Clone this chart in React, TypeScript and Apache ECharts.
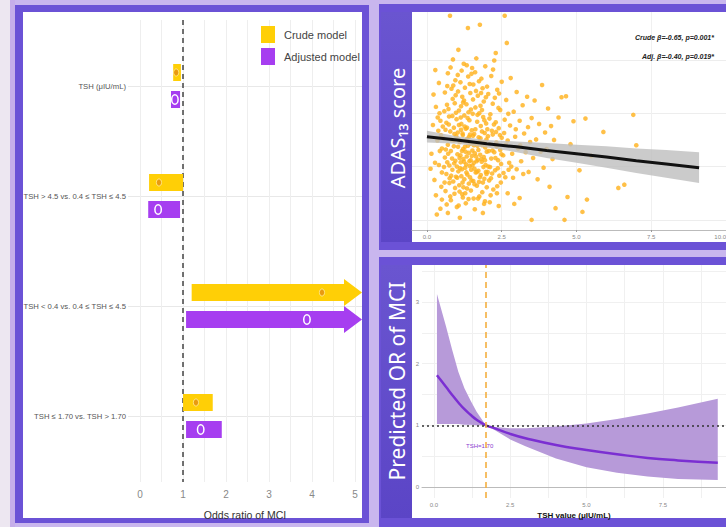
import React, { useEffect, useRef } from "react";
import * as echarts from "echarts";

// ---------- Forest plot (left panel) ----------
const forestCategories = [
  "TSH (μIU/mL)",
  "TSH > 4.5 vs. 0.4 ≤ TSH ≤ 4.5",
  "TSH < 0.4 vs. 0.4 ≤ TSH ≤ 4.5",
  "TSH ≤ 1.70 vs. TSH > 1.70",
];
const crudeOR = [0.84, 0.44, 4.23, 1.3];
const crudeLower = [0.77, 0.21, 1.2, 1.0];
const crudeUpper = [0.95, 1.0, 8.0, 1.69];
const adjOR = [0.81, 0.42, 3.88, 1.41];
const adjLower = [0.72, 0.19, 1.07, 1.07];
const adjUpper = [0.93, 0.93, 7.5, 1.9];
const orLabelTicks = [0, 1, 2, 3, 4, 5];
const orGridTicks = [0, 0.5, 1, 1.5, 2, 2.5, 3, 3.5, 4, 4.5, 5];
const OR_MIN = -0.28;
const OR_MAX = 5.16;

// ---------- ADAS13 scatter (top right) ----------
const adasPoints = [
  [0.15,22.4],[0.2,27.8],[0.25,17.5],[0.3,31.2],[0.3,14.6],[0.35,24.9],[0.4,20.3],[0.4,35.7],[0.45,12.1],[0.45,28.6],
  [0.5,18.9],[0.5,23.4],[0.33,11.0],[0.22,33.5],[0.48,16.2],[0.12,19.6],[0.38,26.7],[0.28,38.1],[0.42,30.0],[0.5,13.8],
  [0.55,25.3],[0.6,21.7],[0.6,33.9],[0.62,15.4],[0.65,28.2],[0.65,18.6],[0.7,11.3],[0.7,24.1],[0.7,37.5],[0.72,30.8],
  [0.75,20.2],[0.75,16.9],[0.77,48.3],[0.78,26.6],[0.8,22.9],[0.8,13.7],[0.82,34.6],[0.85,19.4],[0.85,29.5],[0.87,40.1],
  [0.88,17.2],[0.9,23.8],[0.9,27.3],[0.92,14.9],[0.93,31.9],[0.95,21.1],[0.95,36.2],[0.97,18.1],[0.98,25.7],[1.0,12.4],
  [0.58,30.4],[0.63,23.2],[0.68,35.1],[0.73,27.9],[0.76,17.8],[0.83,25.0],[0.86,32.7],[0.91,20.6],[0.94,16.0],[0.99,28.9],
  [0.57,19.9],[0.66,12.9],[0.79,38.6],[0.84,21.5],[0.96,33.4],
  [1.02,22.3],[1.03,26.4],[1.05,19.1],[1.05,41.9],[1.07,30.5],[1.08,16.5],[1.1,10.4],[1.1,24.6],[1.12,35.8],[1.13,20.8],
  [1.15,28.0],[1.15,18.2],[1.17,22.9],[1.18,33.1],[1.2,14.2],[1.2,25.9],[1.22,21.4],[1.23,39.3],[1.25,17.6],[1.25,29.6],
  [1.27,23.7],[1.28,19.8],[1.3,27.1],[1.3,13.1],[1.32,31.7],[1.33,21.9],[1.35,18.5],[1.35,25.2],[1.37,46.0],[1.38,36.9],
  [1.4,22.6],[1.4,16.8],[1.42,28.7],[1.43,20.1],[1.45,24.3],[1.45,33.8],[1.47,15.5],[1.48,19.4],[1.5,26.8],[1.5,22.0],
  [1.04,34.1],[1.09,21.6],[1.14,26.9],[1.19,17.0],[1.24,32.4],[1.29,24.8],[1.34,15.9],[1.39,30.2],[1.44,18.0],[1.49,37.4],
  [1.06,12.7],[1.16,38.0],[1.21,23.3],[1.26,27.5],[1.31,20.4],[1.36,29.1],[1.41,25.6],[1.46,21.2],[1.11,19.7],[1.18,14.8],
  [1.52,23.0],[1.53,29.9],[1.55,17.3],[1.55,35.4],[1.57,20.7],[1.58,26.1],[1.6,12.0],[1.6,22.5],[1.62,31.1],[1.63,18.9],
  [1.65,24.4],[1.65,40.3],[1.67,16.4],[1.68,28.4],[1.7,21.3],[1.7,33.3],[1.72,19.2],[1.73,25.5],[1.75,14.4],[1.75,30.0],
  [1.77,46.6],[1.78,22.2],[1.8,27.6],[1.8,18.4],[1.82,36.5],[1.83,20.9],[1.85,24.0],[1.85,15.2],[1.87,11.3],[1.88,29.3],
  [1.9,21.8],[1.9,32.2],[1.92,17.7],[1.93,26.3],[1.95,23.6],[1.95,38.8],[1.97,19.0],[1.98,28.1],[2.0,16.1],[2.0,22.8],
  [1.54,25.8],[1.59,19.6],[1.64,34.2],[1.69,23.9],[1.74,17.1],[1.79,31.4],[1.84,26.6],[1.89,19.9],[1.94,13.5],[1.99,25.1],
  [1.56,14.0],[1.66,21.0],[1.76,24.7],[1.86,34.7],[1.96,20.3],
  [2.02,27.0],[2.05,20.0],[2.05,33.6],[2.08,17.4],[2.1,24.2],[2.1,13.3],[2.12,29.8],[2.15,21.5],[2.15,37.0],[2.18,18.7],
  [2.2,26.0],[2.2,31.8],[2.22,15.7],[2.25,22.7],[2.25,39.9],[2.28,19.3],[2.3,41.3],[2.3,28.3],[2.32,24.5],[2.35,16.3],
  [2.35,34.4],[2.38,21.2],[2.4,27.2],[2.4,12.6],[2.42,18.3],[2.45,30.6],[2.45,23.1],[2.48,20.5],[2.5,25.4],[2.5,35.9],
  [2.07,22.9],[2.17,26.7],[2.27,32.9],[2.37,19.7],[2.47,17.0],[2.13,14.6],[2.33,23.8],[2.03,19.0],
  [2.55,22.1],[2.6,48.3],[2.6,28.8],[2.62,18.0],[2.65,32.5],[2.67,43.2],[2.7,24.9],[2.7,15.0],[2.75,20.7],[2.78,27.7],
  [2.8,36.6],[2.85,22.4],[2.88,17.9],[2.9,30.3],[2.95,25.6],[3.0,19.5],[3.0,34.0],[3.05,23.4],[3.1,14.1],[3.1,28.6],
  [3.15,21.0],[3.2,31.5],[3.22,18.6],[3.25,26.2],[3.3,22.7],[3.35,33.1],[3.4,19.0],[3.45,24.6],[3.5,10.0],[3.5,29.1],
  [2.58,26.3],[2.73,19.4],[2.92,13.0],[3.12,24.0],[3.38,27.4],
  [3.55,21.6],[3.6,32.4],[3.65,25.1],[3.7,17.6],[3.75,28.0],[3.8,22.8],[3.85,35.3],[3.9,19.8],[3.95,26.4],[4.0,23.3],
  [4.05,30.9],[4.1,16.2],[4.15,27.6],[4.2,21.4],[4.25,25.0],[4.3,12.2],[4.4,29.2],[4.5,33.0],[4.6,10.0],[4.65,33.2],
  [4.7,14.3],[4.8,24.2],[4.9,28.5],
  [5.2,11.5],[5.3,29.0],[5.35,13.8],[5.9,26.5],[6.4,16.0],[6.6,16.6],[6.9,29.7],[7.0,24.0],[5.5,22.0],[5.1,19.3],
  [0.62,26.9],[0.68,20.8],[0.74,29.4],[0.81,18.3],[0.89,24.9],[0.97,30.1],[1.01,17.9],[1.04,23.7],[1.07,27.8],[1.09,15.3],
  [1.12,22.1],[1.14,31.3],[1.17,19.5],[1.19,26.2],[1.22,16.1],[1.24,20.9],[1.27,34.8],[1.29,22.8],[1.32,18.9],[1.34,27.3],
  [1.37,23.9],[1.39,13.9],[1.42,21.0],[1.44,26.0],[1.47,30.7],[1.49,17.4],[1.52,20.2],[1.54,32.6],[1.57,24.0],[1.59,16.7],
  [1.62,27.0],[1.64,21.9],[1.67,19.0],[1.69,29.7],[1.72,23.1],[1.74,36.0],[1.77,18.0],[1.79,25.3],[1.82,21.4],[1.84,30.6],
  [1.87,17.0],[1.89,24.5],[1.92,28.7],[1.94,21.2],[1.97,33.0],[1.99,18.6],[2.04,25.7],[2.09,29.0],[2.14,17.8],[2.19,23.0],
  [2.24,27.9],[2.29,21.6],[2.34,15.0],[2.39,31.0],[2.44,25.9],[2.49,22.3],[2.56,18.8],[2.64,24.1],[2.72,29.9],[2.82,20.0],
  [2.97,27.0],[0.53,27.5],[0.59,17.0],[0.67,31.6],[0.71,22.4],[0.78,14.4],[0.88,35.2],[0.92,26.1],[1.0,20.0],[1.03,37.2],
  [1.08,25.0],[1.13,29.2],[1.21,32.0],[1.28,15.0],[1.33,39.0],[1.43,35.5],[1.51,38.5],[1.61,37.7],[1.71,14.0],[1.81,33.8],
  [1.91,13.0],[2.01,35.0],[2.11,19.9],[2.21,38.2],[2.31,26.5],[2.41,33.7],[0.43,22.9],[0.36,29.2],[0.47,25.9],[0.27,20.7],
];
const regX = [0, 1, 2, 3, 4, 5, 6, 7, 8, 9.1];
const regFit = [25.6, 25.0, 24.3, 23.7, 23.0, 22.4, 21.8, 21.1, 20.5, 19.8];
const regLower = [24.5, 24.3, 23.6, 22.7, 21.6, 20.7, 19.8, 18.8, 17.9, 16.9];
const regUpper = [26.7, 25.7, 25.0, 24.7, 24.4, 24.1, 23.8, 23.4, 23.1, 22.7];
const tshLabelTicks = [0, 2.5, 5, 7.5, 10];
const adasGridTicks = [10, 20, 30, 40];

// ---------- Predicted OR curve (bottom right) ----------
const curveTSH = [0.1, 0.4, 0.6, 0.8, 1.0, 1.2, 1.4, 1.7, 2.0, 2.5, 3, 4, 5, 6, 7, 8, 9.3];
const curveOR = [1.81, 1.62, 1.49, 1.37, 1.26, 1.17, 1.09, 1.0, 0.95, 0.86, 0.79, 0.68, 0.6, 0.53, 0.47, 0.43, 0.39];
const curveUpper = [3.13, 2.6, 2.22, 1.87, 1.6, 1.4, 1.22, 1.0, 0.97, 0.95, 0.95, 0.98, 1.03, 1.1, 1.19, 1.29, 1.43];
const curveLower = [1.02, 1.02, 1.02, 1.02, 1.01, 1.01, 1.0, 1.0, 0.92, 0.77, 0.66, 0.46, 0.32, 0.23, 0.17, 0.13, 0.11];
const cutoffTSH = 1.7;
const predLabelTicks = [0, 1, 2, 3];
const predGridTicks = [0, 0.5, 1, 1.5, 2, 2.5, 3, 3.5];
const curveXLabelTicks = [0, 2.5, 5, 7.5];
const curveXGridTicks = [0, 1.25, 2.5, 3.75, 5, 6.25, 7.5, 8.75];

const SANS = "'Liberation Sans',Arial,sans-serif";
const PURPLE_FRAME = "#6B52D6";
const STRIP = "#5B45C6";

const fmt1 = (v: number) => (v === 10 ? "10.0" : v.toFixed(1));

function forestRender(offset: number, fill: string, mFill: string, mStroke: string, rx: number, ry: number, lw: number) {
  return (params: any, api: any) => {
    const cat = api.value(0);
    const lo = api.value(1);
    const hi = api.value(2);
    const est = api.value(3);
    const cs = params.coordSys;
    const pLo = api.coord([lo, cat]);
    const pEst = api.coord([est, cat]);
    const cy = pLo[1] + offset;
    const h = 17;
    const children: any[] = [];
    if (hi > OR_MAX) {
      const tip = cs.x + cs.width;
      const hs = tip - 18;
      children.push({
        type: "polygon",
        shape: {
          points: [
            [pLo[0], cy - h / 2], [hs, cy - h / 2], [hs, cy - 13.5], [tip, cy],
            [hs, cy + 13.5], [hs, cy + h / 2], [pLo[0], cy + h / 2],
          ],
        },
        style: { fill },
      });
    } else {
      const pHi = api.coord([hi, cat]);
      children.push({ type: "rect", shape: { x: pLo[0], y: cy - h / 2, width: pHi[0] - pLo[0], height: h }, style: { fill } });
    }
    children.push({ type: "ellipse", shape: { cx: pEst[0], cy, rx, ry }, style: { fill: mFill, stroke: mStroke, lineWidth: lw } });
    return { type: "group", children };
  };
}

function bandRender(xs: number[], lo: number[], hi: number[], fill: string) {
  return (params: any, api: any) => {
    if (params.dataIndex !== 0) return null;
    const pts: number[][] = [];
    for (let i = 0; i < xs.length; i++) pts.push(api.coord([xs[i], hi[i]]));
    for (let i = xs.length - 1; i >= 0; i--) pts.push(api.coord([xs[i], lo[i]]));
    return { type: "polygon", shape: { points: pts }, style: { fill } };
  };
}

export default function App() {
  const ref = useRef<HTMLDivElement>(null);
  useEffect(() => {
    document.body.style.margin = "0";
    const chart = echarts.init(ref.current!, undefined, { renderer: "svg" });
    const crudeData = forestCategories.map((_, i) => [i, crudeLower[i], crudeUpper[i], crudeOR[i]]);
    const adjData = forestCategories.map((_, i) => [i, adjLower[i], adjUpper[i], adjOR[i]]);

    const tinyLabel = { fontSize: 6, color: "#888", fontFamily: SANS };
    const stripFill = () =>
      new echarts.graphic.LinearGradient(0, 0, 0, 1, [{ offset: 0, color: "#6A55D0" }, { offset: 1, color: STRIP }]);

    const option: any = {
      animation: false,
      graphic: [
        { type: "rect", z: -20, shape: { x: 0, y: 0, width: 726, height: 527 }, style: { fill: "#C9B6EE" } },
        { type: "rect", z: -19, shape: { x: 0, y: 0, width: 10, height: 527 }, style: { fill: "#EDE7F1" } },
        { type: "rect", z: -19, shape: { x: 10, y: 0, width: 5, height: 527 }, style: { fill: "#C6AEEA" } },
        { type: "rect", z: -18, shape: { x: 15, y: 5, width: 354, height: 518 }, style: { fill: PURPLE_FRAME } },
        { type: "rect", z: -17, shape: { x: 23, y: 12, width: 339, height: 506 }, style: { fill: "#ffffff" } },
        { type: "rect", z: -18, shape: { x: 379, y: 4, width: 347, height: 246 }, style: { fill: PURPLE_FRAME } },
        { type: "rect", z: -17, shape: { x: 381, y: 12, width: 31, height: 230 }, style: { fill: stripFill() } },
        { type: "rect", z: -17, shape: { x: 412, y: 12, width: 314, height: 230 }, style: { fill: "#ffffff" } },
        { type: "rect", z: -18, shape: { x: 379, y: 257, width: 347, height: 270 }, style: { fill: PURPLE_FRAME } },
        { type: "rect", z: -17, shape: { x: 381, y: 265, width: 31, height: 253 }, style: { fill: stripFill() } },
        { type: "rect", z: -17, shape: { x: 412, y: 265, width: 314, height: 253 }, style: { fill: "#ffffff" } },
        { type: "text", z: 50, x: 397, y: 128, rotation: Math.PI / 2,
          style: { text: "ADAS₁₃ score", fill: "#ffffff", fontSize: 20, fontFamily: "'Noto Sans',sans-serif", align: "center", verticalAlign: "middle" } },
        { type: "text", z: 50, x: 397, y: 381, rotation: Math.PI / 2,
          style: { text: "Predicted OR of MCI", fill: "#ffffff", fontSize: 21, fontFamily: "'Noto Sans',sans-serif", align: "center", verticalAlign: "middle" } },
        { type: "text", z: 50, x: 714, y: 37,
          style: { text: "Crude β=-0.65, p=0.001*", fill: "#222", fontSize: 7, fontStyle: "italic", fontWeight: "bold", fontFamily: SANS, align: "right", verticalAlign: "middle" } },
        { type: "text", z: 50, x: 714, y: 56,
          style: { text: "Adj. β=-0.40, p=0.019*", fill: "#222", fontSize: 7, fontStyle: "italic", fontWeight: "bold", fontFamily: SANS, align: "right", verticalAlign: "middle" } },
      ],
      legend: {
        data: ["Crude model", "Adjusted model"],
        orient: "vertical",
        left: 256,
        top: 21,
        itemWidth: 14,
        itemHeight: 17,
        itemGap: 5,
        icon: "rect",
        textStyle: { fontSize: 11, color: "#444", fontFamily: SANS, padding: [0, 0, 0, 4] },
      },
      grid: [
        { left: 128, top: 20, width: 234, height: 462, outerBoundsMode: "none", containLabel: false },
        { left: 412, top: 12, width: 314, height: 218, outerBoundsMode: "none", containLabel: false },
        { left: 422, top: 265, width: 304, height: 233, outerBoundsMode: "none", containLabel: false },
      ],
      xAxis: [
        {
          gridIndex: 0, type: "value", min: OR_MIN, max: OR_MAX,
          name: "Odds ratio of MCI", nameLocation: "middle", nameGap: 27,
          nameTextStyle: { fontSize: 10.5, color: "#333", fontFamily: SANS },
          axisLine: { show: false },
          axisTick: { show: false, customValues: orGridTicks },
          axisLabel: { customValues: orLabelTicks, fontSize: 10, color: "#888", fontFamily: SANS, margin: 7 },
          splitLine: { show: true, lineStyle: { color: "#EEEEEE", width: 1 } },
        },
        {
          gridIndex: 1, type: "value", min: -0.5, max: 10,
          axisLine: { show: true, lineStyle: { color: "#BBBBBB" } },
          axisTick: { show: true, customValues: tshLabelTicks, length: 2, lineStyle: { color: "#999" } },
          axisLabel: { customValues: tshLabelTicks, ...tinyLabel, margin: 4, alignMaxLabel: "right", formatter: (v: number) => fmt1(v) },
          splitLine: { show: true, lineStyle: { color: "#F0F0F0" } },
        },
        {
          gridIndex: 2, type: "value", min: -0.39, max: 9.57,
          name: "TSH value (μIU/mL)", nameLocation: "middle", nameGap: 13,
          nameTextStyle: { fontSize: 8, color: "#111", fontWeight: "bold", fontFamily: SANS },
          axisLine: { show: true, lineStyle: { color: "#BBBBBB" } },
          axisTick: { show: false, customValues: curveXGridTicks },
          axisLabel: { customValues: curveXLabelTicks, ...tinyLabel, margin: 4, formatter: (v: number) => v.toFixed(1) },
          splitLine: { show: true, lineStyle: { color: "#F0F0F0" } },
        },
      ],
      yAxis: [
        {
          gridIndex: 0, type: "value", min: -0.6, max: 3.6, inverse: true,
          axisLine: { show: false },
          axisTick: { show: false, customValues: [0, 1, 2, 3] },
          axisLabel: {
            customValues: [0, 1, 2, 3], fontSize: 7.7, color: "#555", fontFamily: SANS, margin: 2,
            formatter: (v: number) => forestCategories[Math.round(v)] ?? "",
          },
          splitLine: { show: true, lineStyle: { color: "#E8E8E8" } },
        },
        {
          gridIndex: 1, type: "value", min: 8.1, max: 49,
          axisLine: { show: false },
          axisTick: { show: false, customValues: adasGridTicks },
          axisLabel: { show: false },
          splitLine: { show: true, lineStyle: { color: "#EDEDED" } },
        },
        {
          gridIndex: 2, type: "value", min: -0.18, max: 3.6,
          axisLine: { show: false },
          axisTick: { show: false, customValues: predGridTicks },
          axisLabel: { customValues: predLabelTicks, ...tinyLabel, margin: 3 },
          splitLine: { show: true, lineStyle: { color: "#F0F0F0" } },
        },
      ],
      series: [
        {
          name: "Crude model", type: "custom", xAxisIndex: 0, yAxisIndex: 0,
          data: crudeData, encode: { x: [1, 2, 3], y: 0 }, clip: false,
          itemStyle: { color: "#FFCF06" },
          renderItem: forestRender(-13.5, "#FFCF06", "#E99A10", "#FFE680", 2.6, 3.6, 1),
          z: 5,
        },
        {
          name: "Adjusted model", type: "custom", xAxisIndex: 0, yAxisIndex: 0,
          data: adjData, encode: { x: [1, 2, 3], y: 0 }, clip: false,
          itemStyle: { color: "#A63EF0" },
          renderItem: forestRender(13.5, "#A63EF0", "#A63EF0", "#FFFFFF", 3.2, 4.8, 1.5),
          z: 5,
        },
        {
          type: "line", xAxisIndex: 0, yAxisIndex: 0, data: [], silent: true,
          markLine: {
            symbol: "none", silent: true, label: { show: false },
            lineStyle: { color: "#444", type: [5, 4], width: 1.5 },
            data: [{ xAxis: 1 }],
          },
        },
        {
          type: "scatter", xAxisIndex: 1, yAxisIndex: 1, data: adasPoints,
          symbolSize: 4.6, itemStyle: { color: "#FFB21E", opacity: 0.82 }, silent: true, z: 2,
        },
        {
          type: "custom", xAxisIndex: 1, yAxisIndex: 1, data: regX.map((x, i) => [x, regFit[i]]),
          renderItem: bandRender(regX, regLower, regUpper, "rgba(190,190,190,0.8)"), silent: true, z: 3,
        },
        {
          type: "line", xAxisIndex: 1, yAxisIndex: 1, data: regX.map((x, i) => [x, regFit[i]]),
          showSymbol: false, lineStyle: { color: "#111", width: 3 }, silent: true, z: 4,
        },
        {
          type: "custom", xAxisIndex: 2, yAxisIndex: 2, data: curveTSH.map((x, i) => [x, curveOR[i]]),
          renderItem: bandRender(curveTSH, curveLower, curveUpper, "#B79AD9"), silent: true, z: 2,
        },
        {
          type: "line", xAxisIndex: 2, yAxisIndex: 2, data: curveTSH.map((x, i) => [x, curveOR[i]]),
          smooth: true, showSymbol: false, lineStyle: { color: "#7B2FD2", width: 2.5 }, silent: true, z: 4,
          markLine: {
            symbol: "none", silent: true, label: { show: false },
            data: [
              { yAxis: 1, lineStyle: { color: "#333", type: [2, 3], width: 1.6 } },
              { xAxis: cutoffTSH, lineStyle: { color: "#F4B040", type: [6, 4], width: 1.6 } },
            ],
          },
          markPoint: {
            symbol: "circle", symbolSize: 0, silent: true,
            data: [{ coord: [1.5, 0.67], label: { show: true, formatter: "TSH=1.70", color: "#8A3BD0", fontSize: 6, fontFamily: SANS } }],
          },
        },
      ],
    };
    chart.setOption(option);
    return () => chart.dispose();
  }, []);
  return <div ref={ref} style={{ width: 726, height: 527 }} />;
}
